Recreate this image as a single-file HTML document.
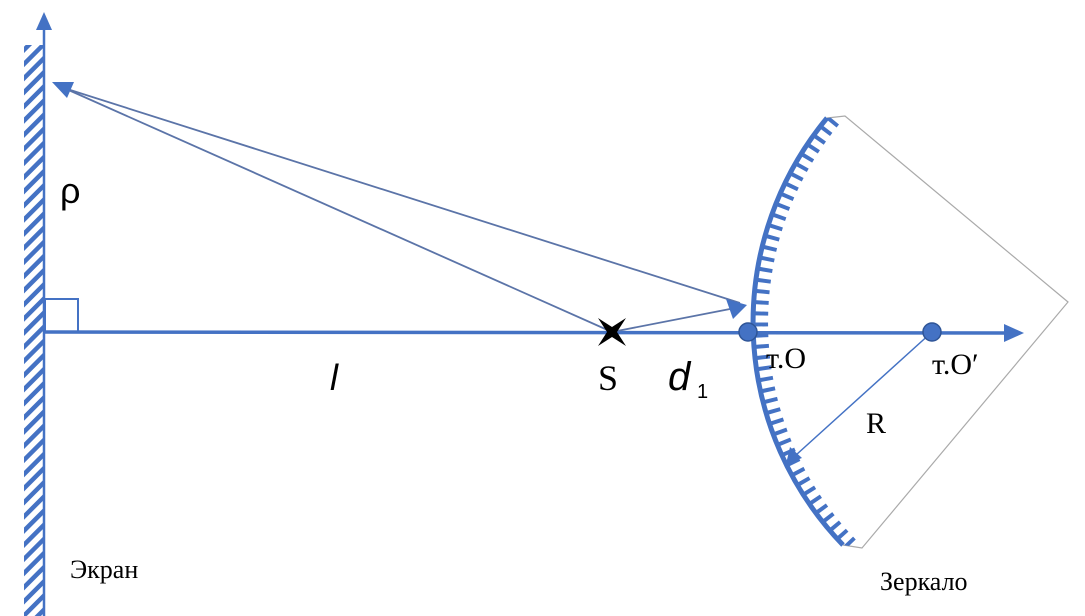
<!DOCTYPE html>
<html><head><meta charset="utf-8"><style>
html,body{margin:0;padding:0;background:#fff;}
svg{display:block;}
</style></head><body>
<svg width="1085" height="616" viewBox="0 0 1085 616" xmlns="http://www.w3.org/2000/svg">
<defs>
<pattern id="hat" width="10" height="10" patternUnits="userSpaceOnUse" patternTransform="rotate(-45)">
<rect width="10" height="4.5" fill="#4472C4"/>
</pattern>
<clipPath id="wc"><path d="M845,116 L1068,302 L862,548 L843,545 A320 320 0 0 1 827,118 Z"/></clipPath>
</defs>
<rect x="24" y="45" width="20" height="571" fill="url(#hat)"/>
<line x1="44" y1="616" x2="44" y2="24" stroke="#4472C4" stroke-width="2.5"/>
<polygon points="44,12 36,30 52,30" fill="#4472C4"/>
<rect x="45" y="299" width="33" height="33" fill="none" stroke="#4472C4" stroke-width="2"/>
<path d="M827,118 L845,116 L1068,302 L862,548 L843,545" fill="none" stroke="#aaa" stroke-width="1.2"/>
<line x1="44" y1="332" x2="1008" y2="333" stroke="#4472C4" stroke-width="3.5"/>
<polygon points="1024,333 1004,324 1004,342" fill="#4472C4"/>
<line x1="612" y1="332" x2="64" y2="88" stroke="#5B74A8" stroke-width="1.8"/>
<line x1="740" y1="303" x2="64" y2="88" stroke="#5B74A8" stroke-width="1.8"/>
<polygon points="52,82 74,82 67,98" fill="#4472C4"/>
<line x1="612" y1="332" x2="730" y2="309" stroke="#5B74A8" stroke-width="1.8"/>
<polygon points="747,305 726,299 733,319" fill="#4472C4"/>
<g clip-path="url(#wc)">
<path d="M843,545 A320 320 0 0 1 827,118" fill="none" stroke="#4472C4" stroke-width="16" stroke-dasharray="4 7" transform="translate(7,0)"/>
</g>
<path d="M843,545 A320 320 0 0 1 827,118" fill="none" stroke="#4472C4" stroke-width="5"/>
<line x1="932" y1="332" x2="796" y2="455" stroke="#4472C4" stroke-width="1.5"/>
<polygon points="786,464 790,447 802,458" fill="#4472C4"/>
<circle cx="748" cy="332" r="9" fill="#4472C4" stroke="#2F5597" stroke-width="1.5"/>
<circle cx="932" cy="332" r="9" fill="#4472C4" stroke="#2F5597" stroke-width="1.5"/>
<path d="M598,318 L612,327 L626,318 L617,332 L626,346 L612,337 L598,346 L607,332 Z" fill="#000"/>
<text x="60" y="203" font-family="Liberation Sans, sans-serif" font-size="36">ρ</text>
<text x="330" y="390" font-family="Liberation Sans, sans-serif" font-size="36" font-style="italic">l</text>
<text x="598" y="390" font-family="Liberation Serif, serif" font-size="36">S</text>
<text x="668" y="390" font-family="Liberation Sans, sans-serif" font-size="40" font-style="italic">d</text>
<text x="697" y="398" font-family="Liberation Sans, sans-serif" font-size="20">1</text>
<text x="766" y="368" font-family="Liberation Serif, serif" font-size="30">т.O</text>
<text x="932" y="374" font-family="Liberation Serif, serif" font-size="30">т.O′</text>
<text x="866" y="433" font-family="Liberation Serif, serif" font-size="30">R</text>
<text x="70" y="578" font-family="Liberation Serif, serif" font-size="26">Экран</text>
<text x="880" y="590" font-family="Liberation Serif, serif" font-size="26">Зеркало</text>
</svg>
</body></html>
